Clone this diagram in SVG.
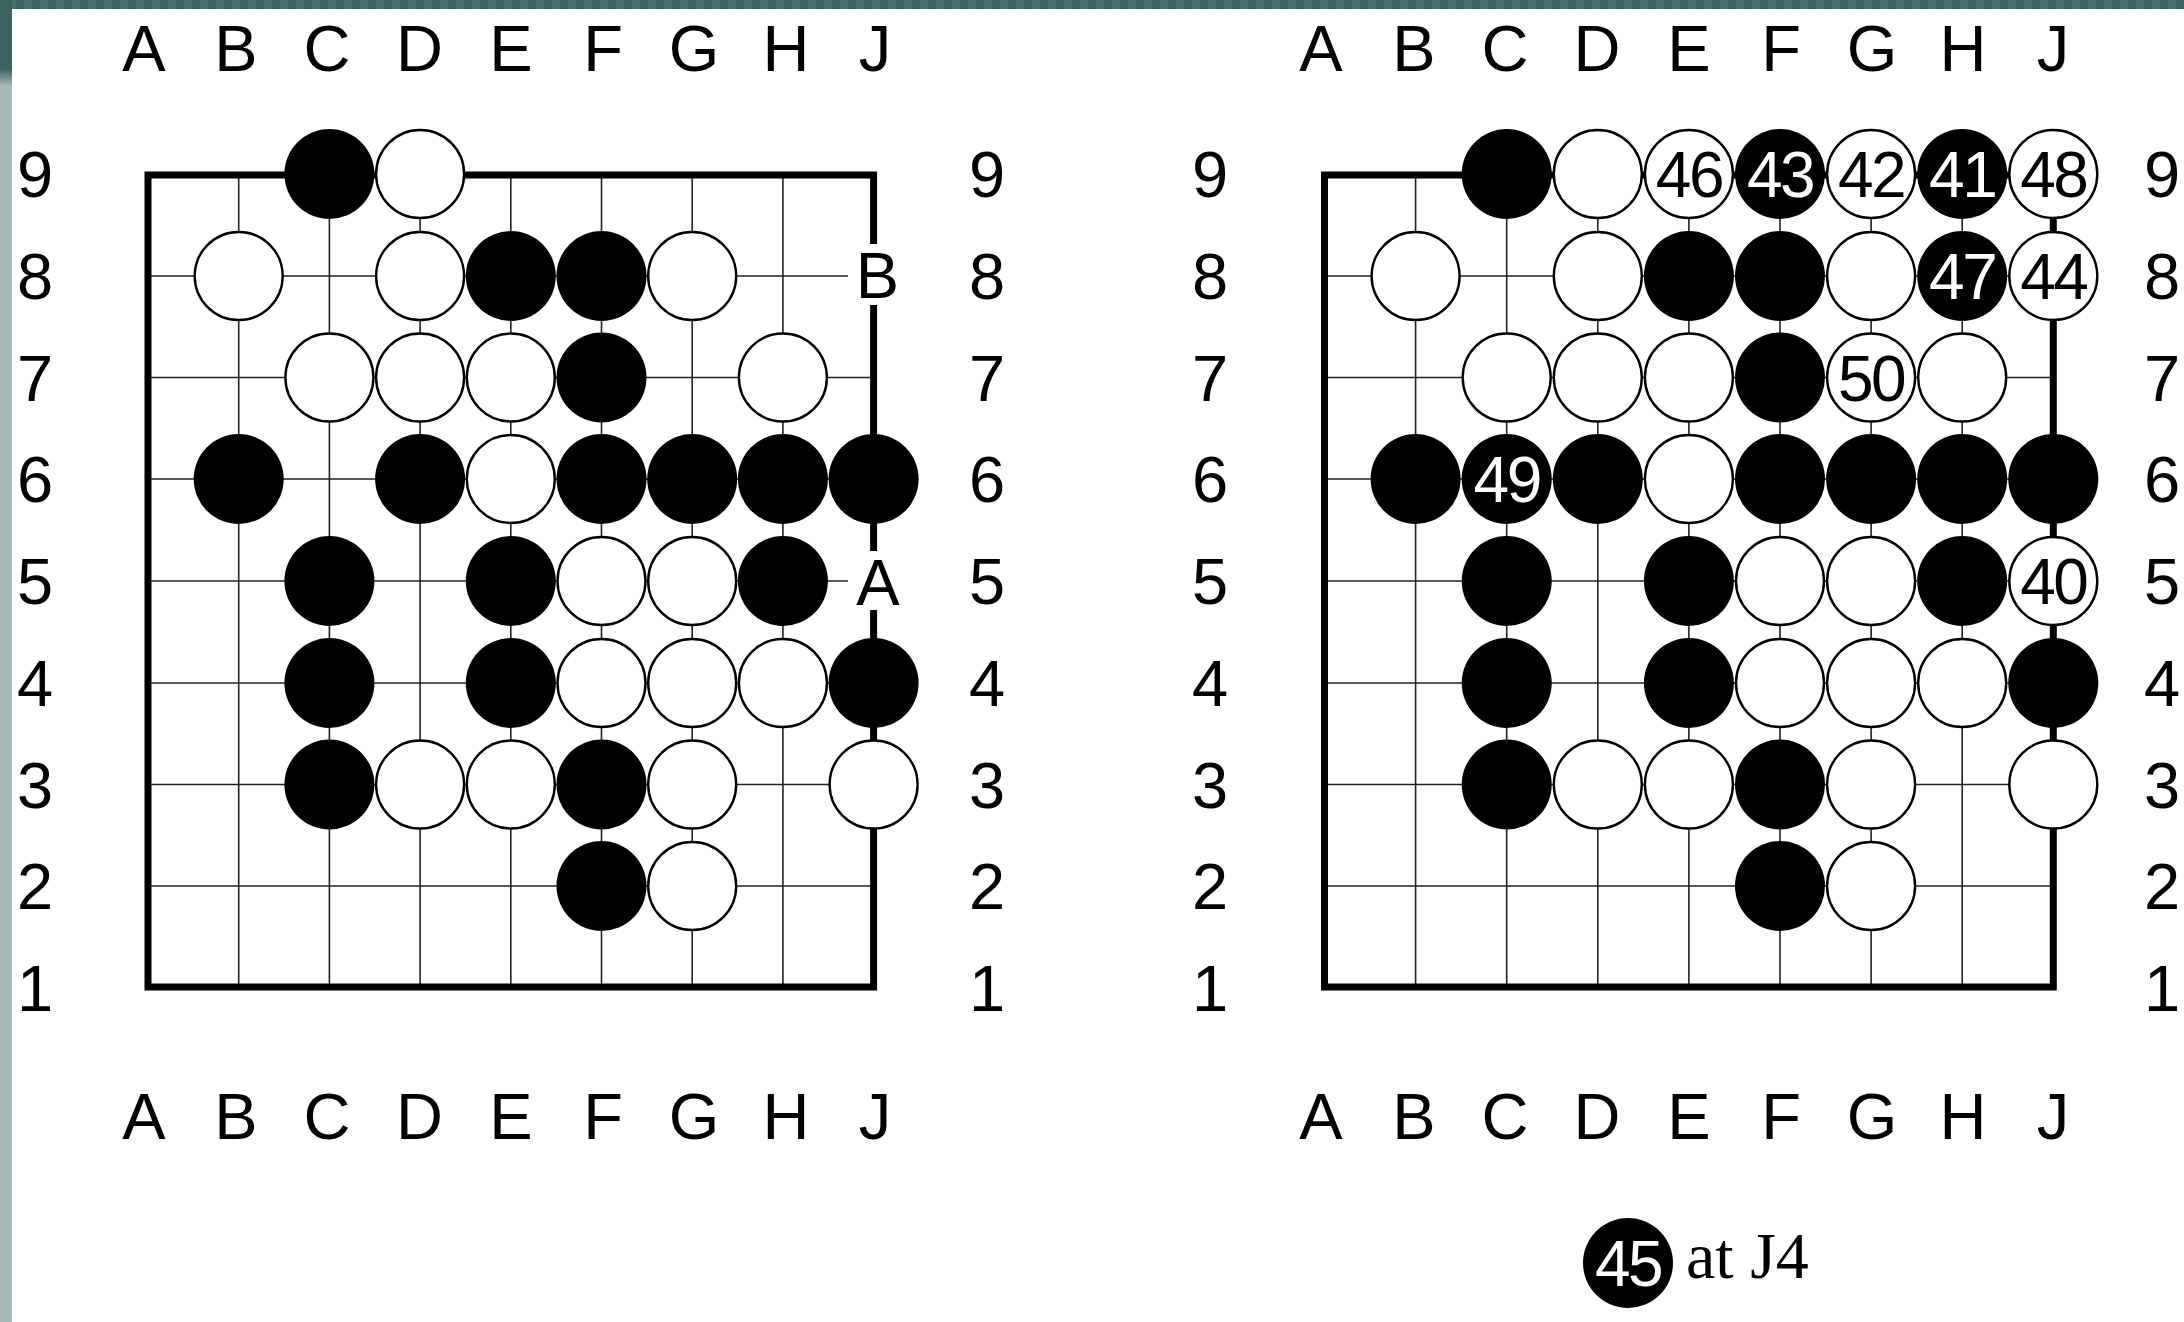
<svg xmlns="http://www.w3.org/2000/svg" width="2184" height="1322" viewBox="0 0 2184 1322">
<style>
.bg{fill:#ffffff}
.grid{stroke:#222;stroke-width:1.6;fill:none}
.edge{stroke:#000;stroke-width:7;fill:none;stroke-linejoin:miter;stroke-linecap:square}
.b{fill:#000}
.w{fill:#fff;stroke:#000;stroke-width:2.4}
.lbl{font-family:"Liberation Sans",Arial,sans-serif;font-size:65px;fill:#000;text-anchor:middle}
.num{font-family:"Liberation Sans",Arial,sans-serif;font-size:64px;text-anchor:middle;letter-spacing:-2.5px}
.nb{fill:#fff}
.nw{fill:#000}
.cap{font-family:"Liberation Serif","Times New Roman",serif;font-size:66px;fill:#000}
</style>
<defs>
<pattern id="stripe" width="16" height="9" patternUnits="userSpaceOnUse">
<rect width="16" height="9" fill="#3c6262"/>
<rect x="8" width="8" height="9" fill="#4b6f6f"/>
</pattern>
<linearGradient id="side" x1="0" y1="0" x2="0" y2="1322" gradientUnits="userSpaceOnUse">
<stop offset="0" stop-color="#3d6262"/>
<stop offset="0.052" stop-color="#3d6262"/>
<stop offset="0.065" stop-color="#a5bbb9"/>
<stop offset="1" stop-color="#a5bbb9"/>
</linearGradient>
</defs>
<rect class="bg" width="2184" height="1322"/>
<rect x="0" y="0" width="2184" height="9" fill="url(#stripe)"/>
<rect x="0" y="0" width="12" height="1322" fill="url(#side)"/>

<g id="left-board">
<g id="left-grid">
<path class="grid" d="M238.7 174V988M329.4 174V988M420.1 174V988M510.8 174V988M601.5 174V988M692.2 174V988M782.9 174V988"/>
<path class="grid" d="M148 276H873.6M148 377.5H873.6M148 479H873.6M148 581H873.6M148 683H873.6M148 784.5H873.6M148 886H873.6"/>
<path class="edge" d="M148 175H873.6V987H148Z"/>
</g>
<g id="left-marks">
<rect x="848" y="244" width="60" height="61" fill="#fff"/>
<rect x="848" y="551" width="60" height="59" fill="#fff"/>
<text class="lbl" x="877.5" y="298">B</text>
<text class="lbl" x="878" y="604.5">A</text>
</g>
<g id="left-stones">
<circle class="b" cx="329.4" cy="174" r="45"/><circle class="w" cx="420.1" cy="174" r="44"/>
<circle class="w" cx="238.7" cy="276" r="44"/><circle class="w" cx="420.1" cy="276" r="44"/><circle class="b" cx="510.8" cy="276" r="45"/><circle class="b" cx="601.5" cy="276" r="45"/><circle class="w" cx="692.2" cy="276" r="44"/>
<circle class="w" cx="329.4" cy="377.5" r="44"/><circle class="w" cx="420.1" cy="377.5" r="44"/><circle class="w" cx="510.8" cy="377.5" r="44"/><circle class="b" cx="601.5" cy="377.5" r="45"/><circle class="w" cx="782.9" cy="377.5" r="44"/>
<circle class="b" cx="238.7" cy="479" r="45"/><circle class="b" cx="420.1" cy="479" r="45"/><circle class="w" cx="510.8" cy="479" r="44"/><circle class="b" cx="601.5" cy="479" r="45"/><circle class="b" cx="692.2" cy="479" r="45"/><circle class="b" cx="782.9" cy="479" r="45"/><circle class="b" cx="873.6" cy="479" r="45"/>
<circle class="b" cx="329.4" cy="581" r="45"/><circle class="b" cx="510.8" cy="581" r="45"/><circle class="w" cx="601.5" cy="581" r="44"/><circle class="w" cx="692.2" cy="581" r="44"/><circle class="b" cx="782.9" cy="581" r="45"/>
<circle class="b" cx="329.4" cy="683" r="45"/><circle class="b" cx="510.8" cy="683" r="45"/><circle class="w" cx="601.5" cy="683" r="44"/><circle class="w" cx="692.2" cy="683" r="44"/><circle class="w" cx="782.9" cy="683" r="44"/><circle class="b" cx="873.6" cy="683" r="45"/>
<circle class="b" cx="329.4" cy="784.5" r="45"/><circle class="w" cx="420.1" cy="784.5" r="44"/><circle class="w" cx="510.8" cy="784.5" r="44"/><circle class="b" cx="601.5" cy="784.5" r="45"/><circle class="w" cx="692.2" cy="784.5" r="44"/><circle class="w" cx="873.6" cy="784.5" r="44"/>
<circle class="b" cx="601.5" cy="886" r="45"/><circle class="w" cx="692.2" cy="886" r="44"/>
</g>
<g id="left-coords">
<text class="lbl" x="144" y="70.5">A</text><text class="lbl" x="236" y="70.5">B</text><text class="lbl" x="327" y="70.5">C</text><text class="lbl" x="419.5" y="70.5">D</text><text class="lbl" x="511" y="70.5">E</text><text class="lbl" x="603" y="70.5">F</text><text class="lbl" x="694" y="70.5">G</text><text class="lbl" x="786" y="70.5">H</text><text class="lbl" x="875" y="70.5">J</text>
<text class="lbl" x="144" y="1138.5">A</text><text class="lbl" x="236" y="1138.5">B</text><text class="lbl" x="327" y="1138.5">C</text><text class="lbl" x="419.5" y="1138.5">D</text><text class="lbl" x="511" y="1138.5">E</text><text class="lbl" x="603" y="1138.5">F</text><text class="lbl" x="694" y="1138.5">G</text><text class="lbl" x="786" y="1138.5">H</text><text class="lbl" x="875" y="1138.5">J</text>
<text class="lbl" x="35" y="197">9</text><text class="lbl" x="35" y="299">8</text><text class="lbl" x="35" y="400.5">7</text><text class="lbl" x="35" y="502">6</text><text class="lbl" x="35" y="604">5</text><text class="lbl" x="35" y="706">4</text><text class="lbl" x="35" y="807.5">3</text><text class="lbl" x="35" y="909">2</text><text class="lbl" x="35" y="1011">1</text>
<text class="lbl" x="987" y="197">9</text><text class="lbl" x="987" y="299">8</text><text class="lbl" x="987" y="400.5">7</text><text class="lbl" x="987" y="502">6</text><text class="lbl" x="987" y="604">5</text><text class="lbl" x="987" y="706">4</text><text class="lbl" x="987" y="807.5">3</text><text class="lbl" x="987" y="909">2</text><text class="lbl" x="987" y="1011">1</text>
</g>
</g>

<g id="right-board">
<g id="right-grid">
<path class="grid" d="M1415.6 174V988M1506.7 174V988M1597.8 174V988M1688.9 174V988M1780 174V988M1871.1 174V988M1962.2 174V988"/>
<path class="grid" d="M1324.5 276H2053.3M1324.5 377.5H2053.3M1324.5 479H2053.3M1324.5 581H2053.3M1324.5 683H2053.3M1324.5 784.5H2053.3M1324.5 886H2053.3"/>
<path class="edge" d="M1324.5 175H2053.3V987H1324.5Z"/>
</g>
<g id="right-stones">
<circle class="b" cx="1506.7" cy="174" r="45"/><circle class="w" cx="1597.8" cy="174" r="44"/><circle class="w" cx="1688.9" cy="174" r="44"/><circle class="b" cx="1780" cy="174" r="45"/><circle class="w" cx="1871.1" cy="174" r="44"/><circle class="b" cx="1962.2" cy="174" r="45"/><circle class="w" cx="2053.3" cy="174" r="44"/>
<circle class="w" cx="1415.6" cy="276" r="44"/><circle class="w" cx="1597.8" cy="276" r="44"/><circle class="b" cx="1688.9" cy="276" r="45"/><circle class="b" cx="1780" cy="276" r="45"/><circle class="w" cx="1871.1" cy="276" r="44"/><circle class="b" cx="1962.2" cy="276" r="45"/><circle class="w" cx="2053.3" cy="276" r="44"/>
<circle class="w" cx="1506.7" cy="377.5" r="44"/><circle class="w" cx="1597.8" cy="377.5" r="44"/><circle class="w" cx="1688.9" cy="377.5" r="44"/><circle class="b" cx="1780" cy="377.5" r="45"/><circle class="w" cx="1871.1" cy="377.5" r="44"/><circle class="w" cx="1962.2" cy="377.5" r="44"/>
<circle class="b" cx="1415.6" cy="479" r="45"/><circle class="b" cx="1506.7" cy="479" r="45"/><circle class="b" cx="1597.8" cy="479" r="45"/><circle class="w" cx="1688.9" cy="479" r="44"/><circle class="b" cx="1780" cy="479" r="45"/><circle class="b" cx="1871.1" cy="479" r="45"/><circle class="b" cx="1962.2" cy="479" r="45"/><circle class="b" cx="2053.3" cy="479" r="45"/>
<circle class="b" cx="1506.7" cy="581" r="45"/><circle class="b" cx="1688.9" cy="581" r="45"/><circle class="w" cx="1780" cy="581" r="44"/><circle class="w" cx="1871.1" cy="581" r="44"/><circle class="b" cx="1962.2" cy="581" r="45"/><circle class="w" cx="2053.3" cy="581" r="44"/>
<circle class="b" cx="1506.7" cy="683" r="45"/><circle class="b" cx="1688.9" cy="683" r="45"/><circle class="w" cx="1780" cy="683" r="44"/><circle class="w" cx="1871.1" cy="683" r="44"/><circle class="w" cx="1962.2" cy="683" r="44"/><circle class="b" cx="2053.3" cy="683" r="45"/>
<circle class="b" cx="1506.7" cy="784.5" r="45"/><circle class="w" cx="1597.8" cy="784.5" r="44"/><circle class="w" cx="1688.9" cy="784.5" r="44"/><circle class="b" cx="1780" cy="784.5" r="45"/><circle class="w" cx="1871.1" cy="784.5" r="44"/><circle class="w" cx="2053.3" cy="784.5" r="44"/>
<circle class="b" cx="1780" cy="886" r="45"/><circle class="w" cx="1871.1" cy="886" r="44"/>
</g>
<g id="right-moves">
<text class="num nw" x="1688.9" y="197">46</text>
<text class="num nb" x="1780" y="197">43</text>
<text class="num nw" x="1871.1" y="197">42</text>
<text class="num nb" x="1962.2" y="197">41</text>
<text class="num nw" x="2053.3" y="197">48</text>
<text class="num nb" x="1962.2" y="299">47</text>
<text class="num nw" x="2053.3" y="299">44</text>
<text class="num nw" x="1871.1" y="400.5">50</text>
<text class="num nb" x="1506.7" y="502">49</text>
<text class="num nw" x="2053.3" y="604">40</text>
</g>
<g id="right-coords">
<text class="lbl" x="1321" y="70.5">A</text><text class="lbl" x="1414" y="70.5">B</text><text class="lbl" x="1505" y="70.5">C</text><text class="lbl" x="1597" y="70.5">D</text><text class="lbl" x="1689" y="70.5">E</text><text class="lbl" x="1781" y="70.5">F</text><text class="lbl" x="1872" y="70.5">G</text><text class="lbl" x="1963" y="70.5">H</text><text class="lbl" x="2053" y="70.5">J</text>
<text class="lbl" x="1321" y="1138.5">A</text><text class="lbl" x="1414" y="1138.5">B</text><text class="lbl" x="1505" y="1138.5">C</text><text class="lbl" x="1597" y="1138.5">D</text><text class="lbl" x="1689" y="1138.5">E</text><text class="lbl" x="1781" y="1138.5">F</text><text class="lbl" x="1872" y="1138.5">G</text><text class="lbl" x="1963" y="1138.5">H</text><text class="lbl" x="2053" y="1138.5">J</text>
<text class="lbl" x="1210" y="197">9</text><text class="lbl" x="1210" y="299">8</text><text class="lbl" x="1210" y="400.5">7</text><text class="lbl" x="1210" y="502">6</text><text class="lbl" x="1210" y="604">5</text><text class="lbl" x="1210" y="706">4</text><text class="lbl" x="1210" y="807.5">3</text><text class="lbl" x="1210" y="909">2</text><text class="lbl" x="1210" y="1011">1</text>
<text class="lbl" x="2162" y="197">9</text><text class="lbl" x="2162" y="299">8</text><text class="lbl" x="2162" y="400.5">7</text><text class="lbl" x="2162" y="502">6</text><text class="lbl" x="2162" y="604">5</text><text class="lbl" x="2162" y="706">4</text><text class="lbl" x="2162" y="807.5">3</text><text class="lbl" x="2162" y="909">2</text><text class="lbl" x="2162" y="1011">1</text>
</g>
</g>

<g id="caption">
<circle class="b" cx="1628" cy="1263" r="45"/>
<text class="num nb" x="1628" y="1286">45</text>
<text class="cap" x="1686" y="1278">at J4</text>
</g>
</svg>
